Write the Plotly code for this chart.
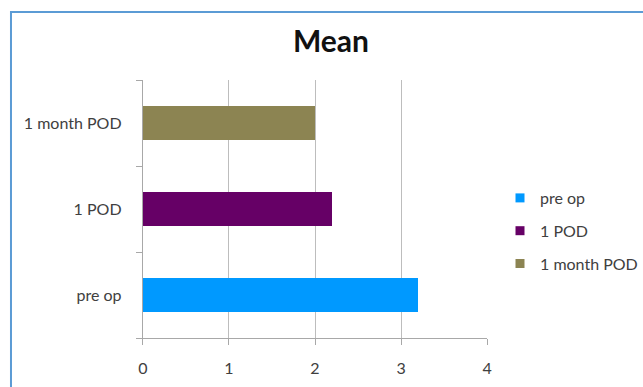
import plotly.graph_objects as go

# Mean scores by time point
categories = ["pre op", "1 POD", "1 month POD"]
means = [3.2, 2.2, 2.0]
colors = ["#0099FF", "#660066", "#8C8452"]
x_ticks = [0, 1, 2, 3, 4]

W, H = 643, 387
FONT = "Lato, Open Sans, sans-serif"

fig = go.Figure()
for cat, val, col in zip(categories, means, colors):
    fig.add_trace(go.Bar(
        x=[val], y=[cat], orientation="h", name=cat,
        marker=dict(color=col, line=dict(width=0)),
        width=0.4, showlegend=False,
    ))

# legend keys as small squares
for i, (cat, col) in enumerate(zip(categories, colors)):
    fig.add_trace(go.Scatter(
        x=[None], y=[None], mode="markers", name=cat,
        marker=dict(symbol="square", size=9, color=col),
        legendgroup=f"g{i}", showlegend=True,
    ))

# pixel -> paper helpers (figure has zero margins)
px = lambda v: v / W
py = lambda v: 1 - v / H

fig.update_layout(
    width=W, height=H,
    margin=dict(l=0, r=0, t=0, b=0),
    paper_bgcolor="white", plot_bgcolor="white",
    barmode="stack",
    title=dict(text="<b>Mean</b>", x=px(331), xanchor="center",
               y=py(41), yanchor="middle",
               font=dict(family=FONT, size=30, color="#111111")),
    xaxis=dict(
        domain=[px(143), px(488)], range=[0, 4],
        tickvals=x_ticks, ticks="outside", ticklen=6, tickcolor="#A8A8A8",
        showgrid=True, gridcolor="#BDBDBD", gridwidth=1,
        showline=True, linecolor="#A8A8A8", linewidth=1,
        zeroline=False, automargin=False, ticklabelstandoff=10,
        tickfont=dict(family=FONT, size=16, color="#404040"),
    ),
    yaxis=dict(
        domain=[py(338), py(80)],
        categoryorder="array", categoryarray=categories,
        tickson="boundaries", ticks="outside", ticklen=6, tickcolor="#A8A8A8",
        showgrid=False, showline=True, linecolor="#A8A8A8", linewidth=1,
        automargin=False, ticklabelstandoff=17,
        tickfont=dict(family=FONT, size=16, color="#404040"),
    ),
    legend=dict(
        x=px(501), y=py(231), xanchor="left", yanchor="middle",
        font=dict(family=FONT, size=16, color="#404040"),
        traceorder="grouped", tracegroupgap=9, itemwidth=30,
        itemsizing="trace", bgcolor="rgba(0,0,0,0)",
    ),
    showlegend=True,
    shapes=[dict(
        type="path", xref="paper", yref="paper",
        path=f"M {px(11)} {py(400)} L {px(11)} {py(12)} L {px(660)} {py(12)}",
        line=dict(color="#5B9BD5", width=2),
    )],
)

fig.write_html("out.html")
